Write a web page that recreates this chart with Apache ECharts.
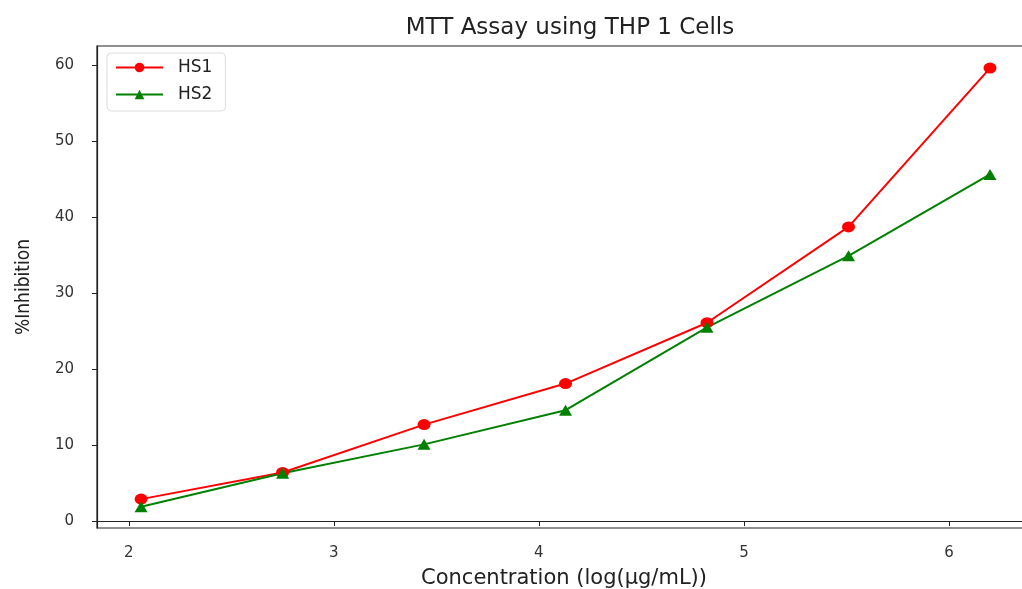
<!DOCTYPE html>
<html>
<head>
<meta charset="utf-8">
<script src="https://cdn.jsdelivr.net/npm/echarts@6/dist/echarts.min.js"></script>
<style>html,body{margin:0;padding:0;background:#fff;}#c{width:1022px;height:589px;}</style>
</head>
<body>
<div id="c"></div>
<script>
const xValues = [2.06, 2.75, 3.44, 4.13, 4.82, 5.51, 6.20];
const hs1 = [2.9, 6.4, 12.7, 18.1, 26.1, 38.7, 59.6];
const hs2 = [1.9, 6.3, 10.1, 14.6, 25.5, 34.9, 45.6];
const xTicks = [2, 3, 4, 5, 6];
const yTicks = [0, 10, 20, 30, 40, 50, 60];

const chart = echarts.init(document.getElementById('c'), null, {renderer: 'canvas'});
const font = 'DejaVu Sans';
chart.setOption({
  animation: false,
  backgroundColor: '#fff',
  title: {
    text: 'MTT Assay using THP 1 Cells',
    left: 565, top: 12, textAlign: 'center',
    textStyle: {fontFamily: font, fontSize: 23, fontWeight: 'normal', color: '#222'}
  },
  legend: {
    left: 107, top: 53, orient: 'vertical',
    itemWidth: 47, itemHeight: 12, itemGap: 10,
    padding: [6, 13, 8, 8],
    borderColor: '#ddd', borderWidth: 1, borderRadius: 4,
    textStyle: {fontFamily: font, fontSize: 17, color: '#222', padding: [0, 0, 0, 10]},
    data: ['HS1', 'HS2']
  },
  grid: {left: 97, top: 46, width: 934, height: 482, outerBoundsMode: 'none', containLabel: false,
         show: true, borderColor: '#222', borderWidth: 1.2, backgroundColor: 'transparent'},
  xAxis: {
    type: 'value', min: 1.845, max: 6.4,
    name: 'Concentration (log(μg/mL))', nameLocation: 'middle', nameGap: 40,
    nameTextStyle: {fontFamily: font, fontSize: 21, color: '#222'},
    axisLine: {show: true, lineStyle: {color: '#222', width: 1.2}},
    axisTick: {show: true, length: 5, inside: false, customValues: xTicks, lineStyle: {color: '#222'}},
    axisLabel: {customValues: xTicks, fontFamily: font, fontSize: 15, color: '#333', margin: 18},
    splitLine: {show: false}
  },
  yAxis: {
    type: 'value', min: -0.9, max: 62.5,
    name: '%Inhibition', nameLocation: 'middle', nameGap: 63, nameRotate: 90,
    nameTextStyle: {fontFamily: 'DejaVu Sans Condensed, DejaVu Sans, sans-serif', fontSize: 19, color: '#222'},
    axisLine: {show: true, lineStyle: {color: '#222', width: 1.2}},
    axisTick: {show: true, length: 5, inside: false, customValues: yTicks, lineStyle: {color: '#222'}},
    axisLabel: {customValues: yTicks, fontFamily: font, fontSize: 15, color: '#333', margin: 23},
    splitLine: {show: false}
  },
  series: [
    {
      name: 'HS1', type: 'line', symbol: 'circle', symbolSize: [13, 11],
      data: xValues.map((x, i) => [x, hs1[i]]),
      itemStyle: {color: '#ff0000'}, lineStyle: {color: '#ff0000', width: 2}
    },
    {
      name: 'HS2', type: 'line', symbol: 'triangle', symbolSize: [13, 11],
      data: xValues.map((x, i) => [x, hs2[i]]),
      itemStyle: {color: '#008000'}, lineStyle: {color: '#008000', width: 2}
    }
  ]
});
</script>
</body>
</html>
